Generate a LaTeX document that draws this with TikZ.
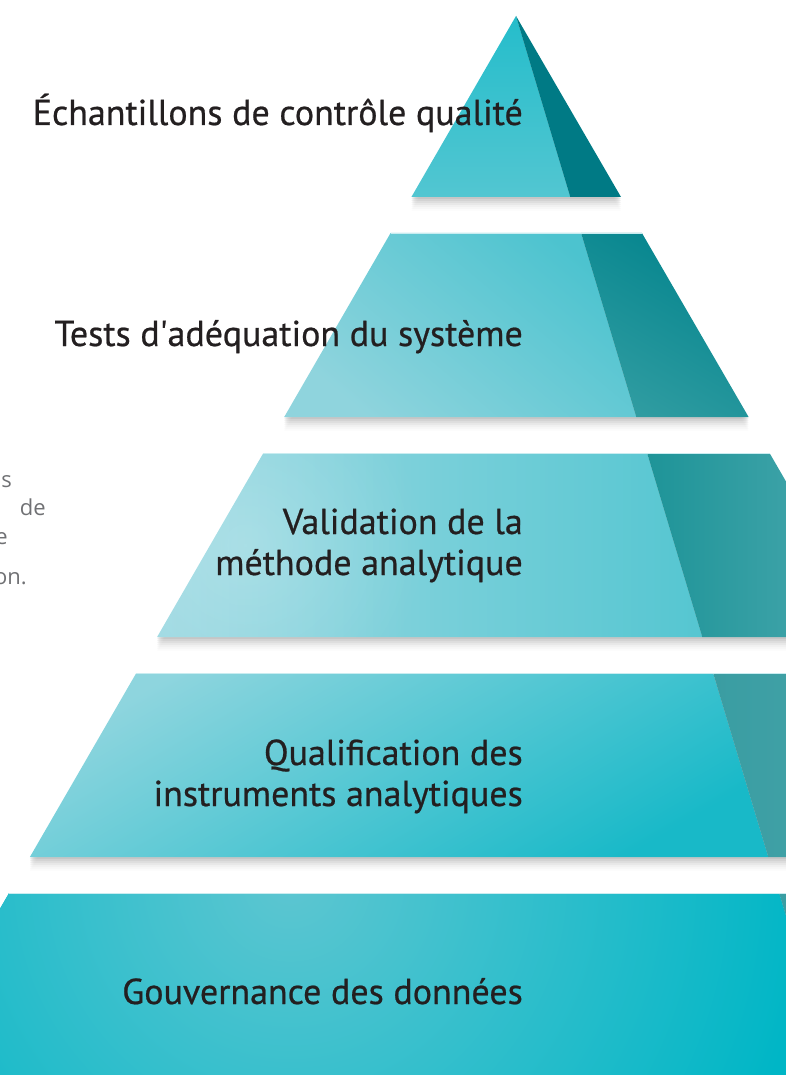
\documentclass[tikz,border=0pt]{standalone}
\usepackage{fontspec}
\newfontfamily\tierfont{PT Sans}[FakeBold=0.6]
\newfontfamily\notefont{Open Sans}
\usetikzlibrary{fadings}

\definecolor{textdark}{HTML}{231F20}
\definecolor{notegray}{HTML}{707174}
\definecolor{topA}{HTML}{25BDCB}
\definecolor{topB}{HTML}{52C6D1}
\definecolor{topdark}{HTML}{007A85}
\definecolor{sstA}{HTML}{8FD4DD}
\definecolor{sstB}{HTML}{4CC3CF}
\definecolor{sstdarkA}{HTML}{03848D}
\definecolor{sstdarkB}{HTML}{2F9CA1}
\definecolor{valA}{HTML}{9DD9E2}
\definecolor{valB}{HTML}{55C6D1}
\definecolor{valdarkA}{HTML}{1E9498}
\definecolor{valdarkB}{HTML}{4DAAB0}
\definecolor{qualA}{HTML}{8ED5DE}
\definecolor{qualB}{HTML}{18B9C8}
\definecolor{qualdarkA}{HTML}{3A9DA2}
\definecolor{qualdarkB}{HTML}{4DA9AF}
\definecolor{govA}{HTML}{5DC6D1}
\definecolor{govB}{HTML}{00B6C6}
\definecolor{govdark}{HTML}{3A9EA3}
\definecolor{rim}{HTML}{C9ECF0}

\tikzfading[name=softglow, inner color=transparent!0, outer color=transparent!100]

\begin{document}
\begin{tikzpicture}[x=1pt,y=-1pt,
    tier/.style={font=\tierfont\fontsize{36}{41}\selectfont, text=textdark,
      align=right, anchor=base east, inner sep=0pt},
    note/.style={font=\notefont\fontsize{22}{26}\selectfont, text=notegray,
      anchor=base east, inner sep=0pt},
    shadow/.style={black, opacity=#1},
    glow/.style={white, path fading=softglow, opacity=#1}]

    \useasboundingbox (0,0) rectangle (786,1075);
    \clip (0,0) rectangle (786,1075);

    % soft shadows under the layers
    \foreach \d/\o in {2/.06,4/.055,6/.045,8/.035,10/.025,12/.02,14/.012}{
        \fill[shadow=\o, shift={(0,\d)}] (516,16) -- (621,197) -- (411.4,197) -- cycle;
        \foreach \t/\b in {233/417,453/637,673/857}
            \fill[shadow=\o, shift={(0,\d)}] ({516-0.578*(\t-16)},\t) -- ({516+0.58*(\t-16)},\t)
                -- ({516+0.58*(\b-16)},\b) -- ({516-0.578*(\b-16)},\b) -- cycle;
    }

    % layer 1
    \shade[top color=topA, bottom color=topB] (516,16) -- (570.3,197) -- (411.4,197) -- cycle;
    \fill[topdark] (516,16) -- (621,197) -- (570.3,197) -- cycle;

    % layer 2
    \shade[top color=sstB, bottom color=sstA, shading angle=-40]
        (390.6,233) -- (581.1,233) -- (636.3,417) -- (284.2,417) -- cycle;
    \shade[top color=sstdarkA, bottom color=sstdarkB, shading angle=-30]
        (581.1,233) -- (641.9,233) -- (748.6,417) -- (636.3,417) -- cycle;
    \draw[rim, line width=1pt] (390.6,233.5) -- (641.9,233.5);

    % layer 3
    \shade[left color=valA, right color=valB]
        (263.4,453) -- (647.1,453) -- (702.3,637) -- (157.1,637) -- cycle;
    \begin{scope}
        \clip (263.4,453) -- (647.1,453) -- (702.3,637) -- (157.1,637) -- cycle;
        \fill[glow=.22] (245,545) circle (180);
    \end{scope}
    \shade[left color=valdarkA, right color=valdarkB]
        (647.1,453) -- (769.5,453) -- (876.2,637) -- (702.3,637) -- cycle;
    \draw[rim, line width=1pt] (263.4,453.5) -- (769.5,453.5);

    % layer 4
    \shade[top color=qualA, bottom color=qualB, shading angle=30]
        (136.3,673) -- (713.1,673) -- (768.3,857) -- (29.9,857) -- cycle;
    \shade[left color=qualdarkA, right color=qualdarkB]
        (713.1,673) -- (897.1,673) -- (1003.8,857) -- (768.3,857) -- cycle;
    \draw[rim, line width=1pt] (136.3,673.5) -- (897.1,673.5);

    % layer 5
    \fill[govB] (9.1,893) -- (779.1,893) -- (841.2,1100) -- (-110.6,1100) -- cycle;
    \begin{scope}
        \clip (9.1,893) -- (779.1,893) -- (841.2,1100) -- (-110.6,1100) -- cycle;
        \shade[inner color=govA, outer color=govB] (290,880) circle (520);
    \end{scope}
    \fill[govdark] (779.1,893) -- (1024.7,893) -- (1144.7,1100) -- (841.2,1100) -- cycle;
    \draw[rim, line width=1pt] (9.1,893.5) -- (1024.7,893.5);

    % labels
    \node[tier] (qc) at (523,125) {Échantillons de contrôle qualité};
    \node[tier] (sst) at (523,346) {Tests d\textquotesingle adéquation du système};
    \node[tier] (val) at (523,575) {Validation de la\\méthode analytique};
    \node[tier] (qual) at (523,806) {Qualification des\\instruments analytiques};
    \node[tier] (gov) at (523,1004) {Gouvernance des données};

    % cut-off paragraph on the left
    \node[note] (n1) at (12,487) {s};
    \node[note] (n2) at (46,515) {de};
    \node[note] (n3) at (8,544) {e};
    \node[note] (n4) at (27,584) {on.};
\end{tikzpicture}
\end{document}
